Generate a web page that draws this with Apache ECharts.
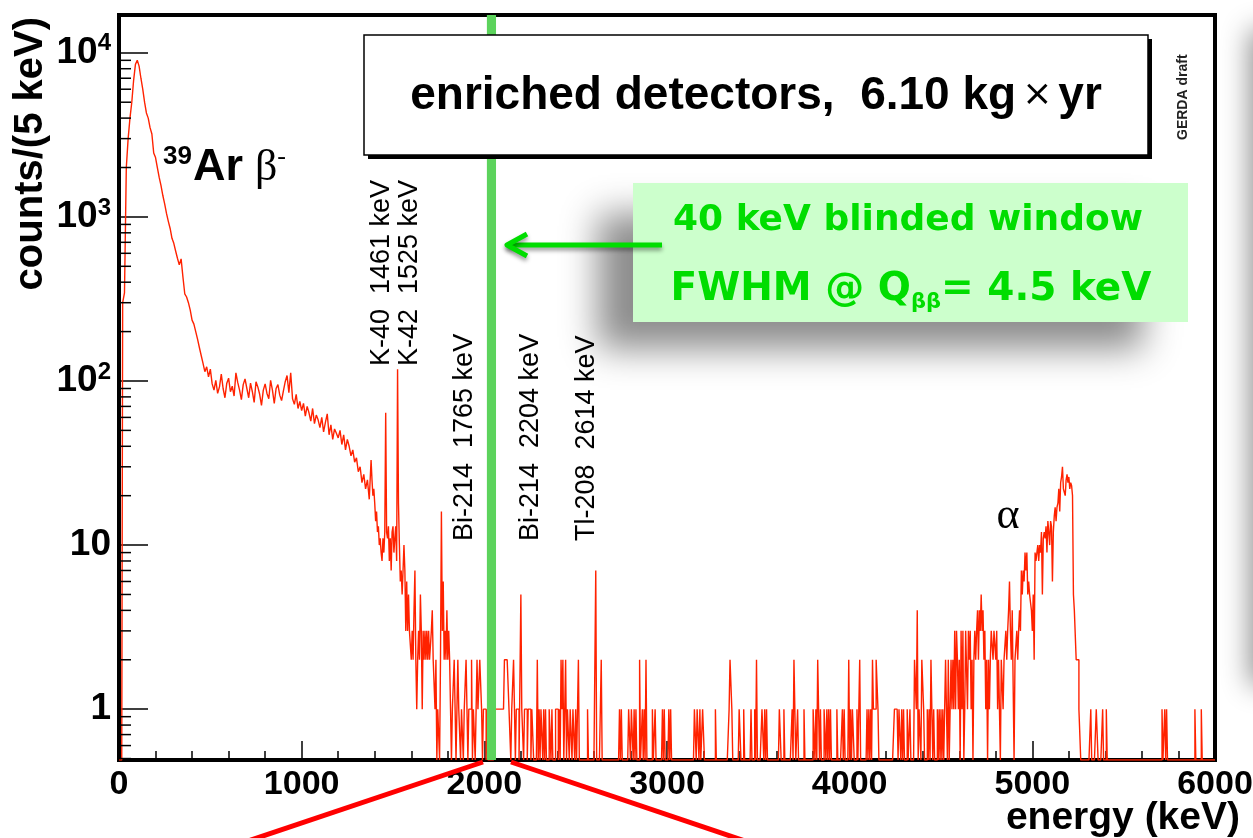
<!DOCTYPE html>
<html>
<head>
<meta charset="utf-8">
<script src="https://cdn.jsdelivr.net/npm/echarts@6/dist/echarts.min.js"></script>
<style>
html, body { margin: 0; padding: 0; background: #fff; }
#chart { width: 1253px; height: 838px; }
</style>
</head>
<body>
<div id="chart"></div>
<script>
var binWidth = 5;
var eMax = 6000;
var yMin = 0.49, yMax = 17000;
var blindWindow = [2014, 2064];

// 10 keV wide readings, 0 - 1380 keV
var lowCounts = [
  0, 0, 300, 344, 2000, 3000, 4000, 5000, 6800, 8500,
  9000, 8300, 7000, 6000, 5000, 4300, 4000, 3500, 3200, 2450,
  2300, 2000, 1740, 1550, 1350, 1200, 1050, 940, 850, 740,
  690, 620, 560, 510, 555, 430, 340, 325, 300, 270,
  235, 222, 200, 180, 160, 143, 128, 114, 122, 106,
  118, 96, 88, 101, 84, 92, 110, 90, 79, 97,
  104, 86, 93, 81, 112, 98, 88, 77, 95, 103,
  90, 79, 97, 86, 74, 99, 92, 83, 71, 88,
  96, 84, 78, 101, 88, 73, 90, 95, 82, 76,
  87, 99, 108, 85, 112, 78, 72, 83, 68, 75,
  66, 73, 61, 70, 64, 57, 68, 55, 62, 58,
  52, 60, 49, 56, 63, 47, 54, 44, 51, 48,
  45, 50, 41, 47, 38, 44, 40, 35, 38, 32,
  34, 28, 30, 24, 27, 22, 25, 19
];

// 5 keV bins, 1380 - 1800 keV (K-40, K-42, Bi-214 region)
var midStart = 1380;
var midCounts = [
  33, 25, 20, 22, 18, 14, 16, 12, 13, 10,
  11, 9, 8, 11, 9, 12, 64, 12, 11, 13,
  8, 11, 7, 12, 13, 9, 11, 13, 8, 118,
  18, 10, 6, 7, 5, 7, 10, 7, 3, 6,
  3, 5, 3, 3, 2, 3, 2, 4, 7, 2,
  1, 2, 3, 2, 5, 3, 1, 3, 2, 3,
  2, 3, 2, 3, 2, 2, 3, 4, 2, 2,
  1, 2, 0, 1, 1, 0, 2, 16, 3, 6,
  2, 3, 2, 4, 2
];

// 5 keV bins, 4940 - 5260 keV (alpha peak)
var alphaStart = 4940;
var alphaCounts = [
  7, 5, 7, 6, 9, 7, 9, 5, 6, 5,
  5, 4, 3, 5, 2, 9, 8, 9, 10, 8,
  10, 9, 12, 5, 11, 12, 11, 13, 9, 14,
  12, 10, 14, 13, 6, 12, 15, 17, 14, 17,
  18, 22, 16, 24, 26, 30, 22, 21, 20, 25,
  27, 24, 26, 22, 24, 23, 20, 5, 4, 4,
  2, 2, 2, 1, 1
];

// sparse bins [bin start keV, counts]; every other bin is empty
var sparseBins = [
  [1805,3],[1810,2],[1815,1],[1825,1],[1830,1],[1835,2],[1840,1],[1850,1],[1855,2],[1860,1],
  [1865,1],[1875,1],[1880,1],[1890,1],[1895,1],[1900,2],[1905,1],[1915,1],[1920,1],[1925,1],
  [1930,2],[1940,1],[1945,1],[1955,1],[1960,2],[1965,1],[1970,1],[1975,2],[1980,2],[1985,1],
  [1995,1],[2000,1],[2005,1],[2015,1],
  [2060,1],[2065,1],[2070,1],[2075,1],[2080,1],[2085,1],[2090,1],[2095,1],[2100,1],[2105,1],
  [2110,2],[2115,2],[2120,2],[2125,2],[2130,2],[2135,1],[2140,1],[2150,1],[2155,1],[2160,2],
  [2165,1],[2175,1],[2180,1],[2185,1],[2200,5],[2205,1],[2210,1],[2220,1],[2225,1],[2230,1],
  [2240,1],[2245,1],[2250,1],[2260,1],[2265,1],[2290,2],[2300,1],[2310,1],[2315,1],[2325,1],
  [2335,1],[2355,1],[2360,1],[2370,1],[2390,1],[2395,1],[2400,1],[2410,1],[2420,2],[2425,1],
  [2430,2],[2445,2],[2455,1],[2460,1],[2470,1],[2475,1],[2485,1],[2490,1],[2500,1],[2515,2],
  [2565,1],[2610,7],[2640,2],[2740,1],[2750,1],[2790,1],[2795,1],[2805,1],[2810,1],[2820,1],
  [2830,1],[2850,2],[2865,1],[2875,1],[2885,2],[2920,1],[2935,1],[2975,1],[2985,1],[3010,1],
  [3020,1],[3150,1],[3155,1],[3165,1],[3170,1],[3180,1],[3195,1],[3200,1],[3265,1],[3340,1],
  [3345,2],[3350,2],[3355,1],[3395,1],[3400,1],[3420,1],[3460,1],[3480,1],[3490,2],[3520,1],
  [3525,1],[3535,1],[3545,1],[3615,1],[3620,1],[3640,1],[3685,1],[3695,2],[3700,2],[3715,1],
  [3750,1],[3800,1],[3805,1],[3815,1],[3825,2],[3830,2],[3840,1],[3860,1],[3865,1],[3875,1],
  [3885,1],[3895,1],[3930,1],[3960,1],[3970,1],[3995,2],[4005,1],[4015,1],[4020,1],[4040,1],
  [4055,2],[4095,1],[4105,1],[4115,1],[4125,2],[4130,1],[4135,1],[4140,1],[4145,2],[4150,2],
  [4155,1],[4245,1],[4250,1],[4255,1],[4260,1],[4270,1],[4275,1],[4285,1],[4295,1],[4315,1],
  [4330,1],[4355,2],[4360,2],[4365,1],[4370,4],[4380,1],[4385,1],[4395,2],[4400,2],[4405,1],
  [4425,1],[4435,1],[4445,2],[4450,1],[4460,1],[4480,1],[4490,1],[4500,1],[4510,1],[4520,1],
  [4525,2],[4530,2],[4540,2],[4550,1],[4555,2],[4560,1],[4565,2],[4570,1],[4575,3],[4580,1],
  [4585,3],[4590,2],[4595,1],[4600,2],[4610,3],[4615,1],[4620,3],[4630,1],[4635,3],[4640,3],
  [4645,1],[4650,3],[4655,2],[4660,3],[4665,1],[4670,2],[4680,2],[4685,3],[4690,2],[4695,3],
  [4700,4],[4705,2],[4710,4],[4715,3],[4720,5],[4725,3],[4730,4],[4735,2],[4740,3],[4745,1],
  [4750,2],[4760,2],[4765,1],[4770,2],[4775,3],[4780,3],[4785,2],[4790,3],[4795,3],[4800,2],
  [4805,3],[4810,1],[4815,2],[4820,1],[4830,2],[4835,2],[4840,1],[4845,2],[4850,2],[4855,3],
  [4860,2],[4865,3],[4870,4],[4875,6],[4880,3],[4885,2],[4890,4],[4895,4],[4905,2],[4910,2],
  [4915,3],[4920,2],[4925,3],[4930,4],[4935,3],
  [5320,1],[5350,1],[5355,1],[5385,1],[5405,1],[5710,1],[5725,1],[5735,1],[5890,1],[5925,1]
];

var yMinorMantissa = [2, 3, 4, 5, 6, 7, 8, 9];
var yDecades = [0.1, 1, 10, 100, 1000];

// assemble the 5 keV histogram
var nBins = eMax / binWidth;
var counts = [];
for (var i = 0; i < nBins; i++) counts.push(0);
lowCounts.forEach(function (c, k) { counts[2 * k] = c; counts[2 * k + 1] = c; });
midCounts.forEach(function (c, k) { counts[midStart / binWidth + k] = c; });
alphaCounts.forEach(function (c, k) { counts[alphaStart / binWidth + k] = c; });
sparseBins.forEach(function (p) { counts[p[0] / binWidth] = p[1]; });

var histData = counts.map(function (c, k) { return [k * binWidth, c > 0 ? c : yMin]; });
histData.push([eMax, histData[nBins - 1][1]]);

var yMinorTicks = [];
yDecades.forEach(function (d) {
  yMinorMantissa.forEach(function (m) {
    var v = m * d;
    if (v > yMin && v < yMax) yMinorTicks.push([0, v]);
  });
});

var FONT = 'Liberation Sans';

function yLabel(v) {
  var lg = Math.log10(v);
  var e = Math.round(lg);
  if (Math.abs(lg - e) > 1e-6) return '';
  if (e === 0) return '{b|1}';
  if (e === 1) return '{b|10}';
  return '{b|10}{s|' + e + '}';
}

var myChart = echarts.init(document.getElementById('chart'));
var option = {
  animation: false,
  backgroundColor: '#ffffff',
  grid: {
    left: 119, right: 38, top: 15, bottom: 78,
    show: true, borderColor: '#000', borderWidth: 4,
    outerBoundsMode: 'none'
  },
  xAxis: {
    type: 'value', min: 0, max: eMax, interval: 1000,
    axisLine: { show: false },
    axisTick: { inside: true, length: 19, lineStyle: { color: '#000', width: 1.5 } },
    minorTick: { show: true, splitNumber: 5, length: 9, lineStyle: { color: '#000', width: 1.5 } },
    splitLine: { show: false },
    axisLabel: {
      margin: 8, color: '#000', fontFamily: FONT, fontWeight: 'bold', fontSize: 34,
      formatter: function (v) { return String(v); }
    }
  },
  yAxis: {
    type: 'log', logBase: 10, min: yMin, max: yMax,
    axisLine: { show: false },
    axisTick: { inside: true, length: 29, lineStyle: { color: '#000', width: 1.5 } },
    splitLine: { show: false },
    axisLabel: {
      margin: 8, formatter: yLabel,
      rich: {
        b: { fontFamily: FONT, fontWeight: 'bold', fontSize: 37, color: '#000', lineHeight: 42 },
        s: { fontFamily: FONT, fontWeight: 'bold', fontSize: 24, color: '#000', verticalAlign: 'top', lineHeight: 24 }
      }
    }
  },
  series: [
    {
      name: 'spectrum', type: 'line', step: 'end', data: histData,
      symbol: 'none', clip: true, z: 3,
      lineStyle: { color: '#ff2200', width: 1.4 }
    },
    {
      name: 'blinded', type: 'custom', z: 4, clip: true,
      data: [blindWindow],
      renderItem: function (params, api) {
        var p0 = api.coord([api.value(0), yMax]);
        var p1 = api.coord([api.value(1), yMin]);
        return { type: 'rect', shape: { x: p0[0], y: p0[1], width: p1[0] - p0[0], height: p1[1] - p0[1] },
                 style: { fill: '#5cd35c' } };
      }
    },
    {
      name: 'yminor', type: 'custom', z: 5,
      data: yMinorTicks,
      renderItem: function (params, api) {
        var p = api.coord([api.value(0), api.value(1)]);
        return { type: 'line', shape: { x1: p[0], y1: p[1], x2: p[0] + 12, y2: p[1] },
                 style: { stroke: '#000', lineWidth: 1.5 } };
      }
    }
  ],
  graphic: [
    // slide shadow on the right (only the blur is on screen)
    { type: 'rect', z: 1, shape: { x: 3250, y: 30, width: 60, height: 655 },
      style: { fill: '#000', shadowBlur: 28, shadowOffsetX: -2000, shadowColor: 'rgba(0,0,0,0.45)' } },
    // blurred shadow of the green box
    { type: 'rect', z: 50, shape: { x: 2598, y: 214, width: 545, height: 135 },
      style: { fill: '#000', shadowBlur: 34, shadowOffsetX: -2000, shadowColor: 'rgba(0,0,0,0.45)' } },
    { type: 'rect', z: 51, shape: { x: 633, y: 183, width: 555, height: 139 }, style: { fill: '#ccffcc' } },
    { type: 'text', z: 52, x: 908, y: 221,
      style: { text: '40 keV blinded window', fill: '#00dd00', font: 'bold 36px "DejaVu Sans"', align: 'center', verticalAlign: 'middle' } },
    { type: 'text', z: 52, x: 911, y: 290,
      style: { text: '{t|FWHM @ Q}{u|ββ}{t|= 4.5 keV}', align: 'center', verticalAlign: 'middle',
        rich: {
          t: { fill: '#00dd00', font: 'bold 39px "DejaVu Sans"', lineHeight: 46 },
          u: { fill: '#00dd00', font: 'bold 21px "DejaVu Sans"', verticalAlign: 'bottom', lineHeight: 30 }
        } } },
    // arrow
    { type: 'polyline', z: 52, shape: { points: [[662, 245], [507, 245]] },
      style: { stroke: '#00dd00', lineWidth: 5, shadowBlur: 4, shadowColor: 'rgba(0,0,0,0.4)', shadowOffsetY: 3 } },
    { type: 'polyline', z: 52, shape: { points: [[527, 234], [507, 245], [527, 256]] },
      style: { stroke: '#00dd00', lineWidth: 5, fill: null, lineJoin: 'round', shadowBlur: 4, shadowColor: 'rgba(0,0,0,0.4)', shadowOffsetY: 3 } },
    // legend box
    { type: 'rect', z: 60, shape: { x: 368, y: 39, width: 784, height: 120 }, style: { fill: '#000' } },
    { type: 'rect', z: 61, shape: { x: 364, y: 35, width: 784, height: 120 }, style: { fill: '#fff', stroke: '#000', lineWidth: 1.5 } },
    { type: 'text', z: 62, x: 756, y: 96,
      style: { text: '{t|enriched detectors,  6.10 kg}{x|×}{t|yr}', align: 'center', verticalAlign: 'middle',
        rich: {
          t: { fill: '#000', font: 'bold 46px "Liberation Sans"' },
          x: { fill: '#000', font: '36px "DejaVu Sans"', padding: [0, 6, 0, 6] }
        } } },
    { type: 'text', z: 62, x: 1183, y: 140, rotation: Math.PI / 2,
      style: { text: 'GERDA draft', fill: '#222', font: 'bold 14px "Liberation Sans"', align: 'left', verticalAlign: 'middle' } },
    // peak labels
    { type: 'text', z: 20, x: 382, y: 366, rotation: Math.PI / 2,
      style: { text: 'K-40  1461 keV', fill: '#000', font: '27px "Liberation Sans"', align: 'left', verticalAlign: 'middle' } },
    { type: 'text', z: 20, x: 410, y: 366, rotation: Math.PI / 2,
      style: { text: 'K-42  1525 keV', fill: '#000', font: '27px "Liberation Sans"', align: 'left', verticalAlign: 'middle' } },
    { type: 'text', z: 20, x: 465, y: 541, rotation: Math.PI / 2,
      style: { text: 'Bi-214  1765 keV', fill: '#000', font: '27px "Liberation Sans"', align: 'left', verticalAlign: 'middle' } },
    { type: 'text', z: 20, x: 531, y: 541, rotation: Math.PI / 2,
      style: { text: 'Bi-214  2204 keV', fill: '#000', font: '27px "Liberation Sans"', align: 'left', verticalAlign: 'middle' } },
    { type: 'text', z: 20, x: 587, y: 541, rotation: Math.PI / 2,
      style: { text: 'Tl-208  2614 keV', fill: '#000', font: '27px "Liberation Sans"', align: 'left', verticalAlign: 'middle' } },
    // 39Ar beta label
    { type: 'text', z: 20, x: 163, y: 168,
      style: { text: '{s|39}{b|Ar}{g|β}{m|-}', align: 'left', verticalAlign: 'middle',
        rich: {
          s: { fill: '#000', font: 'bold 26px "Liberation Sans"', verticalAlign: 'top', lineHeight: 24 },
          b: { fill: '#000', font: 'bold 45px "Liberation Sans"', lineHeight: 48, padding: [0, 12, 0, 1] },
          g: { fill: '#000', font: '44px "Liberation Serif"', lineHeight: 48 },
          m: { fill: '#000', font: '26px "Liberation Serif"', verticalAlign: 'top', lineHeight: 24 }
        } } },
    { type: 'text', z: 20, x: 1008, y: 516,
      style: { text: 'α', fill: '#000', font: '44px "Liberation Serif"', align: 'center', verticalAlign: 'middle' } },
    // axis titles
    { type: 'text', z: 20, x: 31, y: 17, rotation: Math.PI / 2,
      style: { text: 'counts/(5 keV)', fill: '#000', font: 'bold 40px "Liberation Sans"', align: 'right', verticalAlign: 'middle' } },
    { type: 'text', z: 20, x: 1240, y: 818,
      style: { text: 'energy (keV)', fill: '#000', font: 'bold 39px "Liberation Sans"', align: 'right', verticalAlign: 'middle' } },
    // zoom lines towards the next slide panel
    { type: 'line', z: 30, shape: { x1: 483, y1: 762, x2: 245, y2: 842 }, style: { stroke: '#ff0000', lineWidth: 5 } },
    { type: 'line', z: 30, shape: { x1: 511, y1: 762, x2: 748, y2: 842 }, style: { stroke: '#ff0000', lineWidth: 5 } }
  ]
};
myChart.setOption(option);
</script>
</body>
</html>
